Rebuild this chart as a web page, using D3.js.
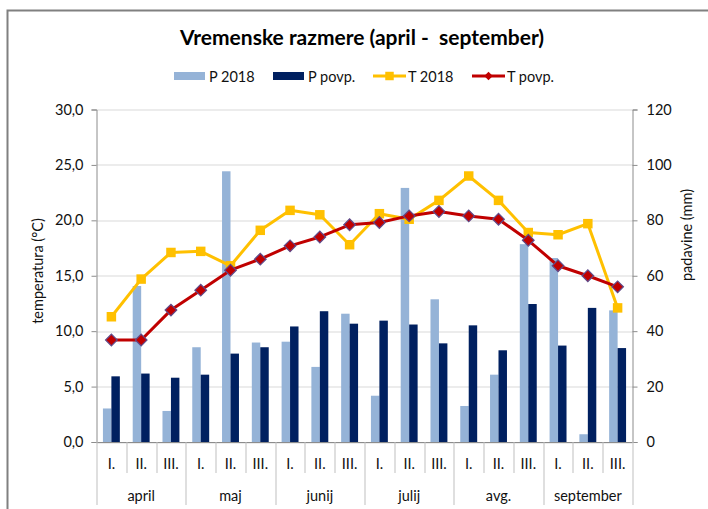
<!DOCTYPE html>
<html>
<head>
<meta charset="utf-8">
<script src="https://cdn.jsdelivr.net/npm/d3@7"></script>
<style>
  body { margin: 0; background: #fff; }
  svg { display: block; font-family: Lato, "Noto Sans", sans-serif; }
</style>
</head>
<body>
<svg width="708" height="509"></svg>
<script>
// decades inside each month
var decades = ["I.", "II.", "III.", "I.", "II.", "III.", "I.", "II.", "III.",
  "I.", "II.", "III.", "I.", "II.", "III.", "I.", "II.", "III."];
var months = ["april", "maj", "junij", "julij", "avg.", "september"];

// precipitation (mm), right axis
var p2018 = [12.1, 56.3, 11.2, 34.2, 97.7, 35.9, 36.2, 27.1, 46.3,
  16.7, 91.7, 51.5, 13.0, 24.3, 71.4, 66.4, 2.8, 47.5];
var pPovp = [23.7, 24.7, 23.2, 24.3, 31.9, 34.2, 41.7, 47.2, 42.7,
  43.8, 42.4, 35.6, 42.1, 33.1, 49.8, 34.8, 48.4, 33.9];

// temperature (°C), left axis
var t2018 = [11.3, 14.7, 17.1, 17.2, 15.9, 19.1, 20.9, 20.5, 17.8,
  20.6, 20.1, 21.8, 24.0, 21.8, 18.9, 18.7, 19.7, 12.1];
var tPovp = [9.2, 9.2, 11.9, 13.7, 15.5, 16.5, 17.7, 18.5, 19.6,
  19.8, 20.4, 20.8, 20.4, 20.1, 18.2, 15.9, 15.0, 14.0];

var tTicks = [0, 5, 10, 15, 20, 25, 30];
var pTicks = [0, 20, 40, 60, 80, 100, 120];

var svg = d3.select("svg"),
  margin = { top: 109.5, right: 75.5, bottom: 67, left: 96.5 },
  width = +svg.attr("width") - margin.left - margin.right,
  height = +svg.attr("height") - margin.top - margin.bottom;

var cLight = "#95B3D7", cDark = "#002060", cYellow = "#FFC000", cRed = "#C00000";

// chart frame
svg.append("rect")
  .attr("x", 7.5).attr("y", 10.5)
  .attr("width", 740).attr("height", 540)
  .attr("fill", "none")
  .attr("stroke", "#808080")
  .attr("stroke-width", 2);

svg.append("text")
  .attr("x", 362).attr("y", 45)
  .attr("text-anchor", "middle")
  .style("font-size", "21px")
  .style("font-weight", "bold")
  .style("white-space", "pre")
  .style("fill", "#000")
  .text("Vremenske razmere (april -  september)");

var g = svg.append("g").attr("transform", "translate(" + margin.left + "," + margin.top + ")");

var x = d3.scaleBand().domain(d3.range(decades.length)).range([0, width]);
var x1 = d3.scaleBand().domain(["p2018", "pPovp"]).range([0, x.bandwidth()]).paddingOuter(0.76);
var y0 = d3.scaleLinear().domain([0, 30]).range([height, 0]);
var y1 = d3.scaleLinear().domain([0, 120]).range([height, 0]);

// gridlines
g.append("g")
  .selectAll("line")
  .data(tTicks)
  .enter().append("line")
  .attr("x1", 0).attr("x2", width)
  .attr("y1", function(d) { return Math.round(y0(d)) + 0.5; })
  .attr("y2", function(d) { return Math.round(y0(d)) + 0.5; })
  .attr("stroke", "#D9D9D9");

// bars
var bars = g.append("g");
bars.selectAll(".b1")
  .data(p2018)
  .enter().append("rect")
  .attr("x", function(d, i) { return x(i) + x1("p2018"); })
  .attr("width", x1.bandwidth())
  .attr("y", function(d) { return y1(d); })
  .attr("height", function(d) { return height - y1(d); })
  .attr("fill", cLight);
bars.selectAll(".b2")
  .data(pPovp)
  .enter().append("rect")
  .attr("x", function(d, i) { return x(i) + x1("pPovp"); })
  .attr("width", x1.bandwidth())
  .attr("y", function(d) { return y1(d); })
  .attr("height", function(d) { return height - y1(d); })
  .attr("fill", cDark);

// left and right axes
var fmt = function(d) { return d.toFixed(1).replace(".", ","); };
var axL = g.append("g")
  .call(d3.axisLeft(y0).tickValues(tTicks).tickFormat(fmt).tickSize(5).tickPadding(8));
var axR = g.append("g")
  .attr("transform", "translate(" + width + ",0)")
  .call(d3.axisRight(y1).tickValues(pTicks).tickSize(5).tickPadding(9));
[axL, axR].forEach(function(a) {
  a.select(".domain").attr("stroke", "#8C8C8C");
  a.selectAll(".tick line").attr("stroke", "#8C8C8C");
  a.selectAll("text").style("font-size", "14.5px").style("font-family", "Lato, sans-serif").attr("fill", "#111");
});

// category axis
g.append("line")
  .attr("x1", 0).attr("x2", width)
  .attr("y1", height + 0.5).attr("y2", height + 0.5)
  .attr("stroke", "#8C8C8C");

var bounds = d3.range(decades.length + 1);
g.append("g")
  .selectAll("line")
  .data(bounds)
  .enter().append("line")
  .attr("x1", function(d) { return Math.round(d === decades.length ? width : x(d)) + 0.5; })
  .attr("x2", function(d) { return Math.round(d === decades.length ? width : x(d)) + 0.5; })
  .attr("y1", height)
  .attr("y2", function(d) { return d % 3 === 0 ? height + 63 : height + 31; })
  .attr("stroke", "#BFBFBF");

g.append("g")
  .selectAll("text")
  .data(decades)
  .enter().append("text")
  .attr("x", function(d, i) { return x(i) + x.bandwidth() / 2; })
  .attr("y", height + 27)
  .attr("text-anchor", "middle")
  .style("font-size", "14.5px")
  .style("fill", "#111")
  .text(function(d) { return d; });

g.append("g")
  .selectAll("text")
  .data(months)
  .enter().append("text")
  .attr("x", function(d, i) { return x(i * 3) + x.bandwidth() * 1.5; })
  .attr("y", height + 59)
  .attr("text-anchor", "middle")
  .style("font-size", "14.5px")
  .style("fill", "#111")
  .text(function(d) { return d; });

// lines
var lineT = function(arr) {
  return d3.line()
    .x(function(d, i) { return x(i) + x.bandwidth() / 2; })
    .y(function(d) { return y0(d); })(arr);
};

g.append("path")
  .attr("d", lineT(t2018))
  .attr("fill", "none")
  .attr("stroke", cYellow)
  .attr("stroke-width", 3)
  .attr("stroke-linejoin", "round");
g.append("g")
  .selectAll("path")
  .data(t2018)
  .enter().append("path")
  .attr("transform", function(d, i) { return "translate(" + (x(i) + x.bandwidth() / 2) + "," + y0(d) + ")"; })
  .attr("d", d3.symbol().type(d3.symbolSquare).size(90))
  .attr("fill", cYellow);

g.append("path")
  .attr("d", lineT(tPovp))
  .attr("fill", "none")
  .attr("stroke", cRed)
  .attr("stroke-width", 3)
  .attr("stroke-linejoin", "round");
g.append("g")
  .selectAll("path")
  .data(tPovp)
  .enter().append("path")
  .attr("transform", function(d, i) { return "translate(" + (x(i) + x.bandwidth() / 2) + "," + y0(d) + ") rotate(45)"; })
  .attr("d", d3.symbol().type(d3.symbolSquare).size(68))
  .attr("fill", cRed)
  .attr("stroke", "#5F4B8B")
  .attr("stroke-width", 1.2);

// axis titles
svg.append("text")
  .attr("transform", "translate(43,271) rotate(-90)")
  .attr("text-anchor", "middle")
  .style("font-size", "14.5px")
  .style("fill", "#111")
  .text("temperatura (°C)");
svg.append("text")
  .attr("transform", "translate(692,235) rotate(-90)")
  .attr("text-anchor", "middle")
  .style("font-size", "14.5px")
  .style("fill", "#111")
  .text("padavine (mm)");

// legend
var legend = svg.append("g");
var legItems = [
  { name: "P 2018", kind: "bar", color: cLight, x: 174 },
  { name: "P povp.", kind: "bar", color: cDark, x: 273 },
  { name: "T 2018", kind: "square", color: cYellow, x: 373 },
  { name: "T povp.", kind: "diamond", color: cRed, x: 472 }
];
legItems.forEach(function(it) {
  var lg = legend.append("g").attr("transform", "translate(" + it.x + ",76)");
  if (it.kind === "bar") {
    lg.append("rect").attr("x", 0).attr("y", -4).attr("width", 31).attr("height", 8).attr("fill", it.color);
  } else {
    lg.append("line").attr("x1", 0).attr("x2", 33).attr("stroke", it.color).attr("stroke-width", 3);
    lg.append("path")
      .attr("transform", "translate(16.5,0)" + (it.kind === "diamond" ? " rotate(45)" : ""))
      .attr("d", d3.symbol().type(d3.symbolSquare).size(it.kind === "diamond" ? 36 : 72))
      .attr("fill", it.color);
  }
  lg.append("text")
    .attr("x", 35)
    .attr("y", 5.5)
    .style("font-size", "14.5px")
    .style("fill", "#111")
    .text(it.name);
});
</script>
</body>
</html>
